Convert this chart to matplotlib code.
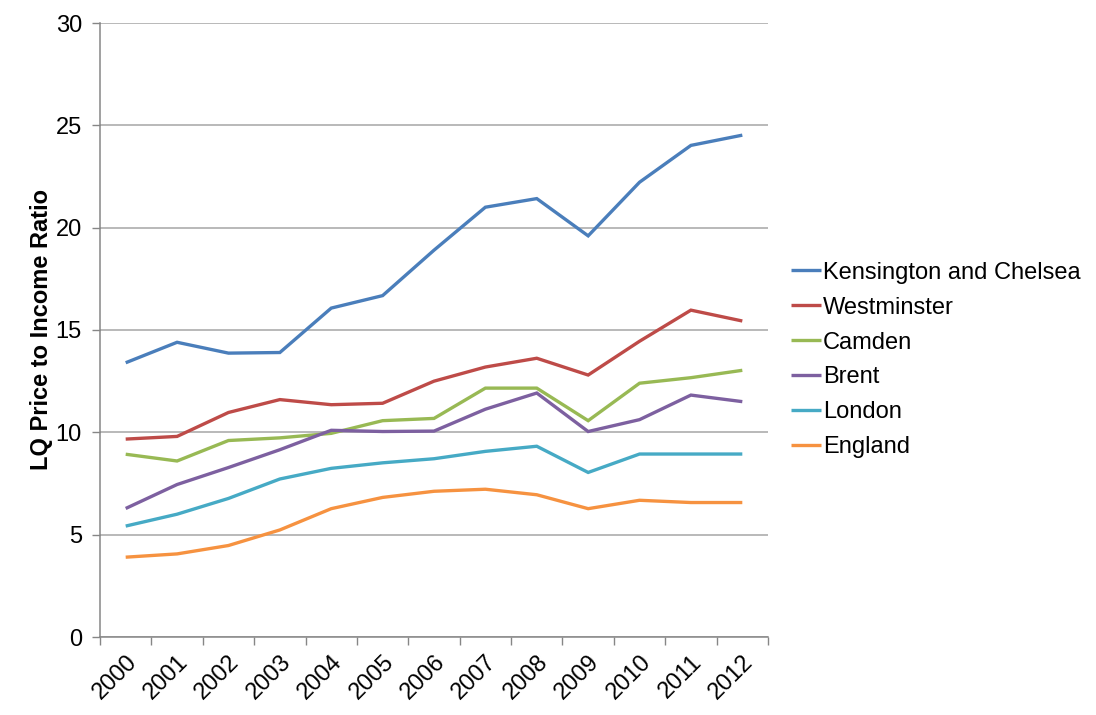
import matplotlib
matplotlib.use("Agg")
import matplotlib.pyplot as plt
import numpy as np

years = ["2000", "2001", "2002", "2003", "2004", "2005", "2006",
         "2007", "2008", "2009", "2010", "2011", "2012"]
kensington = [13.4, 14.4, 13.87, 13.9, 16.07, 16.68, 18.9, 21.0, 21.42, 19.6, 22.22, 24.02, 24.52]
westminster = [9.67, 9.8, 10.97, 11.6, 11.35, 11.42, 12.5, 13.19, 13.62, 12.8, 14.45, 15.97, 15.44]
camden = [8.93, 8.6, 9.6, 9.73, 9.95, 10.57, 10.68, 12.16, 12.16, 10.57, 12.4, 12.67, 13.03]
brent = [6.28, 7.45, 8.28, 9.15, 10.1, 10.04, 10.06, 11.13, 11.92, 10.04, 10.62, 11.82, 11.5]
london = [5.42, 6.0, 6.77, 7.72, 8.24, 8.51, 8.71, 9.07, 9.32, 8.04, 8.94, 8.94, 8.94]
england = [3.9, 4.06, 4.47, 5.23, 6.27, 6.82, 7.12, 7.22, 6.95, 6.27, 6.68, 6.57, 6.57]

series = [
    ("Kensington and Chelsea", kensington, "#4A7EBB"),
    ("Westminster", westminster, "#BE4B48"),
    ("Camden", camden, "#98B954"),
    ("Brent", brent, "#7D60A0"),
    ("London", london, "#46AAC5"),
    ("England", england, "#F69240"),
]

plt.rcParams['font.family'] = ['Liberation Sans', 'DejaVu Sans']

fig = plt.figure(figsize=(10.96, 7.15), dpi=100)
ax = fig.add_axes([100/1096, 1-637/715, 668/1096, 614/715])

x = np.arange(len(years))
for name, vals, col in series:
    ax.plot(x, vals, color=col, lw=2.4, label=name, solid_capstyle='butt', solid_joinstyle='miter')

ax.set_xlim(-0.5, len(years)-0.5)
ax.set_ylim(0, 30)
ax.set_yticks([0, 5, 10, 15, 20, 25, 30])
ax.yaxis.grid(True, color='#A6A6A6', lw=1.1)
ax.set_axisbelow(True)
ax.set_xticks(x)
ax.set_xticklabels(years, rotation=45, ha='right', rotation_mode='anchor', fontsize=17)
ax.set_xticks(np.arange(-0.5, len(years)), minor=True)
ax.tick_params(axis='x', which='major', length=0, pad=10)
ax.tick_params(axis='x', which='minor', length=6, color='#868686', width=1)
ax.tick_params(axis='y', length=6, color='#868686', width=1, labelsize=17, pad=7)

for s in ['top', 'right']:
    ax.spines[s].set_visible(False)
for s in ['left', 'bottom']:
    ax.spines[s].set_color('#868686')
    ax.spines[s].set_linewidth(1.1)

ax.set_ylabel("LQ Price to Income Ratio", fontsize=17, fontweight='bold', labelpad=2)

leg = ax.legend(loc='center left', bbox_to_anchor=(770/1096, 1-360/715),
                bbox_transform=fig.transFigure, frameon=False, fontsize=17,
                handlelength=1.25, handletextpad=0.1, labelspacing=0.55)

fig.savefig("out.png", dpi=100)
